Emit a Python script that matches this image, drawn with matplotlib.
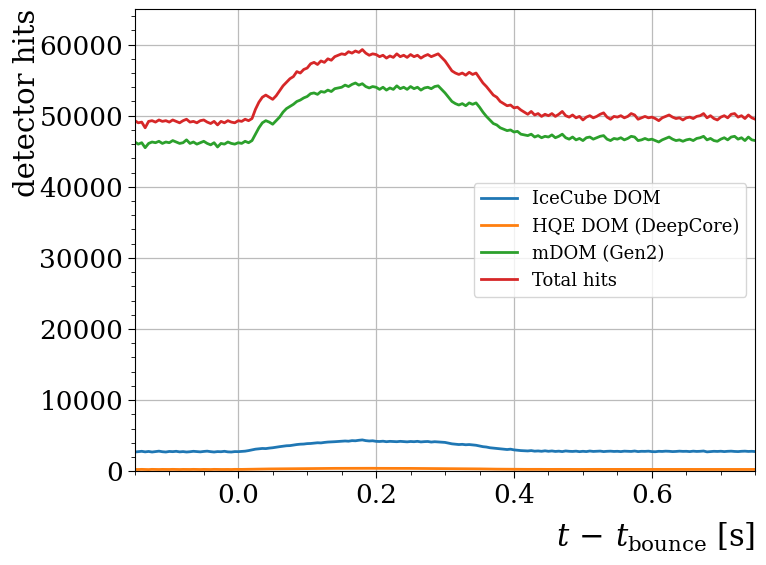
import numpy as np
import matplotlib
matplotlib.use("Agg")
import matplotlib.pyplot as plt
from matplotlib.ticker import AutoMinorLocator

# time grid, 5 ms steps from -0.15 s to 0.75 s
t = np.round(np.arange(-0.15, 0.7501, 0.005), 3)

# hits, one value per 5 ms
icecube = [
    2700, 2750, 2800, 2720, 2780, 2700, 2760, 2820, 2740, 2700, 2780, 2750, 2800, 2720, 2760, 2700, 2740, 2800, 2760, 2720,
    2780, 2820, 2750, 2700, 2760, 2740, 2800, 2720, 2700, 2760, 2750, 2780, 2820, 2900, 3000, 3100, 3150, 3200, 3180, 3250,
    3300, 3380, 3450, 3520, 3580, 3600, 3680, 3750, 3800, 3820, 3880, 3900, 3950, 4000, 3980, 4050, 4100, 4120, 4150, 4180,
    4200, 4250, 4220, 4300, 4280, 4350, 4400, 4300, 4250, 4280, 4200, 4180, 4220, 4150, 4200, 4180, 4150, 4200, 4170, 4130,
    4180, 4150, 4200, 4120, 4160, 4180, 4100, 4150, 4120, 4080, 4050, 3950, 3850, 3800, 3750, 3780, 3720, 3750, 3700, 3650,
    3550, 3450, 3400, 3300, 3250, 3200, 3150, 3100, 3050, 3100, 3000, 2950, 2900, 2880, 2850, 2900, 2820, 2850, 2800, 2870,
    2800, 2850, 2780, 2820, 2760, 2850, 2800, 2780, 2820, 2750, 2800, 2760, 2840, 2780, 2800, 2830, 2760, 2800, 2820, 2780,
    2800, 2760, 2820, 2800, 2780, 2840, 2760, 2800, 2790, 2820, 2760, 2740, 2800, 2780, 2820, 2800, 2760, 2780, 2820, 2790,
    2800, 2760, 2820, 2780, 2800, 2840, 2720, 2760, 2800, 2780, 2810, 2760, 2800, 2820, 2780, 2760, 2800, 2820, 2780, 2800,
    2760]

hqe = [
    250, 240, 260, 250, 230, 260, 250, 240, 255, 250, 245, 260, 250, 240, 255, 250, 245, 260, 250, 240,
    255, 250, 240, 260, 250, 245, 255, 250, 240, 260, 250, 255, 265, 275, 285, 295, 300, 310, 315, 320,
    325, 335, 340, 345, 350, 355, 360, 365, 370, 372, 378, 380, 385, 390, 388, 392, 395, 398, 400, 402,
    405, 410, 408, 412, 415, 410, 415, 408, 405, 410, 400, 402, 398, 400, 395, 398, 400, 395, 398, 392,
    395, 392, 398, 390, 394, 392, 390, 388, 385, 382, 380, 370, 360, 355, 350, 352, 348, 345, 340, 335,
    325, 315, 310, 300, 295, 290, 285, 280, 275, 278, 270, 268, 265, 262, 260, 265, 258, 262, 255, 260,
    255, 260, 250, 258, 252, 260, 255, 250, 258, 252, 255, 260, 250, 255, 258, 250, 255, 260, 252, 255,
    255, 250, 258, 255, 252, 260, 250, 255, 253, 258, 250, 248, 255, 252, 258, 255, 250, 252, 258, 255,
    255, 250, 258, 252, 255, 260, 248, 252, 255, 252, 256, 250, 255, 258, 252, 250, 255, 258, 252, 255,
    250]

mdom = [
    46300, 46000, 46200, 45500, 46100, 46300, 46200, 46400, 46100, 46300, 46200, 46500, 46300, 46100, 46200, 46600, 46100, 46300, 46000, 46200,
    46400, 46100, 45900, 46200, 45600, 46100, 46000, 46300, 46100, 46000, 46200, 46100, 46400, 46200, 46500, 47400, 48300, 49000, 49300, 49100,
    48800, 49300, 49800, 50500, 51000, 51300, 51600, 52000, 52200, 52500, 52700, 53100, 53200, 53000, 53400, 53300, 53600, 53400, 53800, 53900,
    54000, 54300, 54100, 54400, 54600, 54300, 54500, 54100, 53900, 54100, 54000, 53700, 54000, 53600, 53900, 53700, 54200, 53800, 54000, 53700,
    54100, 53800, 54000, 53600, 53900, 54000, 53800, 54100, 54200, 53700, 53200, 52600, 52000, 51700, 51500, 51700, 51400, 51800, 51600, 51800,
    51200, 50500, 49900, 49400, 48900, 48700, 48300, 48100, 47900, 48000, 47700, 47800, 47400, 47300, 47200, 47400, 47000, 47200, 46900, 47100,
    47000, 47300, 46900, 47100, 47400, 46900, 46700, 47000, 46600, 46800, 46500, 46900, 47000, 46700, 46900, 47100, 47200, 46700, 46500, 46800,
    46700, 46900, 46600, 46800, 47100, 47000, 46500, 46600, 46800, 46600, 46700, 46500, 46300, 46600, 46800, 47000, 46700, 46500, 46600, 46400,
    46600, 46700, 46500, 46800, 46900, 47100, 46600, 46800, 46500, 46400, 46700, 46900, 46600, 47000, 47100, 46700, 46900, 46500, 47000, 46600,
    46500]

total = [
    49300, 49000, 49100, 48300, 49200, 49300, 49100, 49400, 49200, 49300, 49100, 49400, 49200, 49000, 49300, 49500, 49100, 49200, 49000, 49300,
    49400, 49100, 48900, 49200, 48700, 49200, 49000, 49300, 49100, 49000, 49300, 49200, 49500, 49300, 49600, 50900, 51900, 52600, 52900, 52600,
    52300, 52800, 53500, 54200, 54700, 55200, 55500, 56200, 56000, 56500, 56700, 57300, 57500, 57200, 57700, 57500, 58000, 57800, 58300, 58500,
    58700, 58600, 59000, 58800, 59100, 58900, 59300, 58800, 58500, 58700, 58600, 58300, 58500, 58100, 58400, 58200, 58700, 58300, 58500, 58200,
    58600, 58300, 58500, 58100, 58400, 58600, 58300, 58500, 58700, 58200, 57700, 57000, 56300, 56000, 55800, 56000, 55700, 56100, 55800, 56000,
    55300, 54600, 54100, 53500, 52900, 52600, 52000, 51700, 51400, 51500, 51100, 51200, 50800, 50500, 50200, 50600, 50100, 50300, 49900, 50200,
    50000, 50300, 49900, 50200, 50600, 50000, 49800, 50100, 49700, 49900, 49400, 49800, 50000, 49700, 49900, 50200, 50400, 49800, 49500, 49900,
    49800, 50000, 49700, 49900, 50300, 50100, 49500, 49700, 49900, 49700, 49800, 49600, 49300, 49700, 49900, 50100, 49800, 49600, 49700, 49400,
    49700, 49800, 49600, 49900, 50000, 50300, 49700, 50000, 49600, 49400, 49800, 50000, 49700, 50200, 50300, 49800, 50000, 49600, 50100, 49700,
    49500]

labels = ["IceCube DOM", "HQE DOM (DeepCore)", "mDOM (Gen2)", "Total hits"]

plt.rcParams['font.family'] = ['DejaVu Serif']
plt.rcParams['mathtext.fontset'] = 'dejavuserif'

fig = plt.figure(figsize=(7.66, 5.65), dpi=100)
ax = fig.add_axes([0.176, 0.166, 0.81, 0.818])

for y, lab in zip([icecube, hqe, mdom, total], labels):
    ax.plot(t, y, lw=2, label=lab)

ax.set_xlim(-0.15, 0.75)
ax.set_ylim(0, 65000)
ax.set_xticks([0.0, 0.2, 0.4, 0.6])
ax.set_yticks(np.arange(0, 60001, 10000))
ax.xaxis.set_minor_locator(AutoMinorLocator(4))
ax.yaxis.set_minor_locator(AutoMinorLocator(5))
ax.tick_params(which='major', labelsize=19, length=5)
ax.tick_params(which='minor', length=3)
ax.grid(True, which='major', color='#bbbbbb', lw=0.9)

ax.set_ylabel("detector hits", fontsize=21, loc='top', labelpad=-1)
ax.set_xlabel(r"$t\,-\,t_{\mathrm{bounce}}$ [s]", fontsize=22, loc='right', labelpad=9)

ax.legend(loc='center right', fontsize=13)

fig.savefig("out.png", dpi=100)
